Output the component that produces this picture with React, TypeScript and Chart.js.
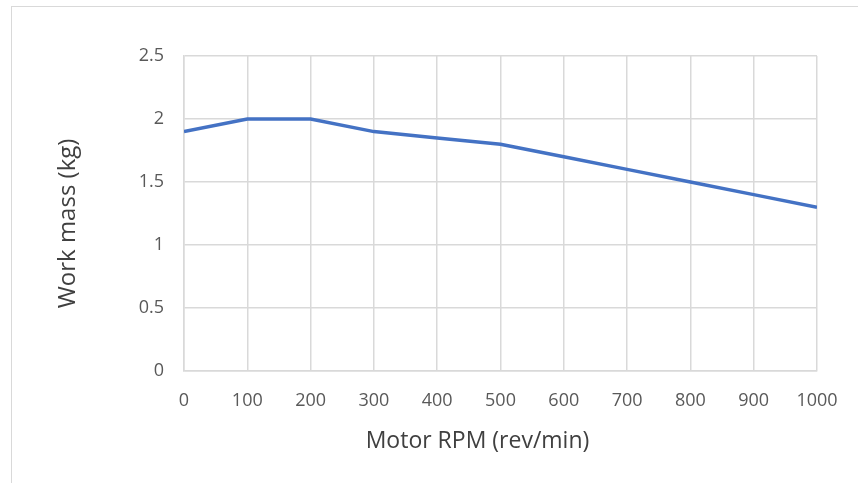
import React, { useEffect, useRef } from "react";
import { Chart, registerables } from "chart.js";

Chart.register(...registerables);

const rpm = [0, 100, 200, 300, 400, 500, 600, 700, 800, 900, 1000];
const workMass = [1.9, 2.0, 2.0, 1.9, 1.85, 1.8, 1.7, 1.6, 1.5, 1.4, 1.3];
const xTitle = "Motor RPM (rev/min)";
const yTitle = "Work mass (kg)";

export default function App() {
  const ref = useRef<HTMLCanvasElement>(null);
  useEffect(() => {
    if (!ref.current) return;
    const font = "'Open Sans', sans-serif";
    const titlesPlugin = {
      id: "titlesPlugin",
      afterDraw(chart: any) {
        const ctx = chart.ctx;
        const area = chart.chartArea;
        ctx.save();
        ctx.fillStyle = "#404040";
        ctx.textAlign = "center";
        ctx.textBaseline = "middle";
        // x-axis title
        ctx.font = `23px ${font}`;
        ctx.fillText(xTitle, (area.left + area.right) / 2 - 23, 441);
        // y-axis title
        ctx.translate(68, (area.top + area.bottom) / 2 + 10);
        ctx.rotate(-Math.PI / 2);
        ctx.font = `24px ${font}`;
        ctx.fillText(yTitle, 0, 0);
        ctx.restore();
      },
    };
    const chart = new Chart(ref.current, {
      type: "line",
      data: {
        datasets: [
          {
            data: rpm.map((x, i) => ({ x, y: workMass[i] })),
            borderColor: "#4472C4",
            borderWidth: 3.5,
            pointRadius: 0,
            tension: 0,
          },
        ],
      },
      options: {
        animation: false,
        responsive: false,
        layout: { padding: { left: 40, top: 56, right: 41, bottom: 20 } },
        plugins: { legend: { display: false }, tooltip: { enabled: false } },
        scales: {
          x: {
            type: "linear",
            min: 0,
            max: 1000,
            ticks: {
              stepSize: 100,
              color: "#595959",
              font: { family: font, size: 18 },
              padding: 19,
              callback: (v: any) => String(v),
            },
            grid: { color: "#d9d9d9", lineWidth: 1.5, drawTicks: false },
            border: { color: "#d9d9d9", width: 1.5 },
            title: { display: false },
            afterFit: (s: any) => { s.height = 483 - 371 - 20; },
          },
          y: {
            min: 0,
            max: 2.5,
            ticks: {
              stepSize: 0.5,
              color: "#595959",
              font: { family: font, size: 18 },
              padding: 20,
              callback: (v: any) => String(v),
            },
            grid: { color: "#d9d9d9", lineWidth: 1.5, drawTicks: false },
            border: { color: "#d9d9d9", width: 1.5 },
            title: { display: false },
            afterFit: (s: any) => { s.width = 184 - 40; },
          },
        },
      },
      plugins: [titlesPlugin],
    });
    return () => chart.destroy();
  }, []);
  return (
    <div style={{ position: "absolute", left: 0, top: 0, width: 858, height: 483, background: "#fff" }}>
      <div style={{ position: "absolute", left: 11, top: 6, width: 900, height: 600, border: "1.5px solid #d9d9d9" }} />
      <canvas ref={ref} width={858} height={483} style={{ position: "absolute", left: 0, top: 0 }} />
    </div>
  );
}
